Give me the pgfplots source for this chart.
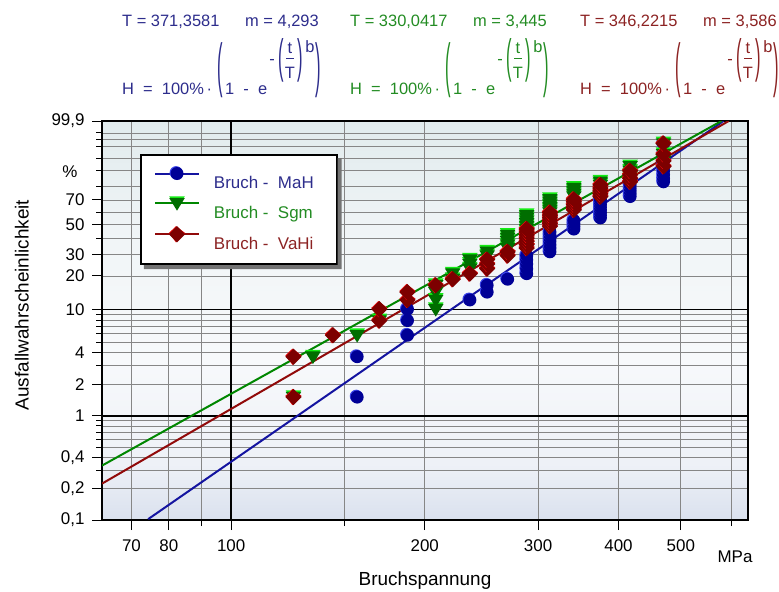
\documentclass[border=0pt]{standalone}
\usepackage{pgfplots}
\pgfplotsset{compat=1.18}
\usepackage{pgfplotstable}
\usepackage{fontspec}
\setmainfont{Liberation Sans}

% series colours
\definecolor{mahline}{RGB}{20,20,160}
\definecolor{mahfill}{RGB}{0,0,150}
\definecolor{mahhi}{RGB}{60,70,235}
\definecolor{mahtext}{RGB}{45,45,140}
\definecolor{sgmline}{RGB}{0,135,0}
\definecolor{sgmfill}{RGB}{0,110,0}
\definecolor{sgmhi}{RGB}{20,235,20}
\definecolor{sgmtext}{RGB}{35,140,35}
\definecolor{vahline}{RGB}{145,10,10}
\definecolor{vahfill}{RGB}{125,0,0}
\definecolor{vahhi}{RGB}{235,10,10}
\definecolor{vahtext}{RGB}{140,35,35}
% plot-area background, bottom to top
\definecolor{bgA}{RGB}{218,225,238}
\definecolor{bgB}{RGB}{238,241,247}
\definecolor{bgC}{RGB}{247,249,251}
\definecolor{bgD}{RGB}{241,245,247}
\definecolor{bgE}{RGB}{225,235,237}
\pgfdeclareverticalshading{plotbg}{100bp}{%
  color(0bp)=(bgA); color(25bp)=(bgA); color(32bp)=(bgB); color(45bp)=(bgC);
  color(60bp)=(bgD); color(75bp)=(bgE); color(100bp)=(bgE)}

\newcommand\tickfont{\fontsize{17}{19}\selectfont}
\newcommand\headfont{\fontsize{16.5}{18}\selectfont}
\newcommand\legfont{\fontsize{17}{19}\selectfont}
\newcommand\labelfont{\fontsize{19}{21}\selectfont}

% bevelled markers: a bright copy slightly up-left, the dark marker on top
\pgfdeclareplotmark{mahdot}{%
  \pgfpathcircle{\pgfqpoint{-0.9pt}{0.9pt}}{\pgfplotmarksize}%
  \pgfsetfillcolor{mahhi}\pgfusepath{fill}%
  \pgfpathcircle{\pgfpointorigin}{\pgfplotmarksize}%
  \pgfsetfillcolor{mahfill}\pgfusepath{fill}}
\pgfdeclareplotmark{sgmtri}{%
  \pgfpathmoveto{\pgfqpoint{-1.2\pgfplotmarksize}{1.05\pgfplotmarksize}}%
  \pgfpathlineto{\pgfqpoint{1.2\pgfplotmarksize}{1.05\pgfplotmarksize}}%
  \pgfpathlineto{\pgfqpoint{0pt}{-0.9\pgfplotmarksize}}\pgfpathclose
  \pgfsetfillcolor{sgmhi}\pgfusepath{fill}%
  \pgfpathmoveto{\pgfqpoint{-1.2\pgfplotmarksize}{0.8\pgfplotmarksize}}%
  \pgfpathlineto{\pgfqpoint{1.2\pgfplotmarksize}{0.8\pgfplotmarksize}}%
  \pgfpathlineto{\pgfqpoint{0pt}{-1.15\pgfplotmarksize}}\pgfpathclose
  \pgfsetfillcolor{sgmfill}\pgfusepath{fill}}
\pgfdeclareplotmark{vahdia}{%
  \pgfpathmoveto{\pgfqpoint{-1pt}{1.25\pgfplotmarksize+1.2pt}}%
  \pgfpathlineto{\pgfqpoint{1.25\pgfplotmarksize-1pt}{1.2pt}}%
  \pgfpathlineto{\pgfqpoint{-1pt}{-1.25\pgfplotmarksize+1.2pt}}%
  \pgfpathlineto{\pgfqpoint{-1.25\pgfplotmarksize-1pt}{1.2pt}}\pgfpathclose
  \pgfsetfillcolor{vahhi}\pgfusepath{fill}%
  \pgfpathmoveto{\pgfqpoint{0pt}{1.25\pgfplotmarksize}}%
  \pgfpathlineto{\pgfqpoint{1.25\pgfplotmarksize}{0pt}}%
  \pgfpathlineto{\pgfqpoint{0pt}{-1.25\pgfplotmarksize}}%
  \pgfpathlineto{\pgfqpoint{-1.25\pgfplotmarksize}{0pt}}\pgfpathclose
  \pgfsetfillcolor{vahfill}\pgfusepath{fill}}

% fracture stress (MPa) and median-rank failure probability H (%)
\pgfplotstableread{
MPa H
157 1.51
157 3.66
188 5.82
188 7.97
188 10.13
235 12.28
250 14.44
250 16.59
269 18.75
288 20.91
288 23.06
288 25.22
288 27.37
288 29.53
313 31.68
313 33.84
313 35.99
313 38.15
313 40.30
313 42.46
313 44.61
341 46.77
341 48.92
341 51.08
341 53.23
375 55.39
375 57.54
375 59.70
375 61.85
375 64.01
375 66.16
375 68.32
375 70.47
417 72.63
417 74.78
417 76.94
417 79.09
417 81.25
470 83.41
470 85.56
470 87.72
470 89.87
470 92.03
470 94.18
470 96.34
470 98.49
}\mah

\pgfplotstableread{
MPa H
125 1.51
134 3.66
157 5.82
170 7.97
208 10.13
208 12.28
208 14.44
208 16.59
221 18.75
221 20.91
235 23.06
235 25.22
235 27.37
250 29.53
250 31.68
269 33.84
269 35.99
269 38.15
269 40.30
269 42.46
288 44.61
288 46.77
288 48.92
288 51.08
288 53.23
288 55.39
288 57.54
313 59.70
313 61.85
313 64.01
313 66.16
313 68.32
313 70.47
341 72.63
341 74.78
341 76.94
341 79.09
375 81.25
375 83.41
417 85.56
417 87.72
417 89.87
417 92.03
470 94.18
470 96.34
470 98.49
}\sgm

\pgfplotstableread{
MPa H
125 1.51
125 3.66
144 5.82
170 7.97
170 10.13
188 12.28
188 14.44
208 16.59
221 18.75
235 20.91
250 23.06
250 25.22
250 27.37
269 29.53
269 31.68
288 33.84
288 35.99
288 38.15
288 40.30
288 42.46
288 44.61
288 46.77
313 48.92
313 51.08
313 53.23
313 55.39
313 57.54
313 59.70
341 61.85
341 64.01
341 66.16
341 68.32
341 70.47
375 72.63
375 74.78
375 76.94
375 79.09
375 81.25
417 83.41
417 85.56
417 87.72
417 89.87
470 92.03
470 94.18
470 96.34
470 98.49
}\vahi

% heading with the fitted parameters and the Weibull law
\newcommand\weibullhead[4]{%
  \begin{scope}[xshift=#1bp, every node/.style={inner sep=0pt, text=#2, font=\headfont}]
    \node[anchor=base west] at (0bp,-26bp) {T = #3};
    \node[anchor=base west] at (123bp,-26bp) {m = #4};
    \node[anchor=base west] at (0bp,-94bp) {H\ \ =\ \ 100\%\,·};
    \node at (98bp,-70bp) {\scalebox{1}[3.6]{(}};
    \node[anchor=base west] at (103bp,-94bp) {1\ \ -\ \ e};
    \node at (150bp,-62bp) {-};
    \node at (159bp,-60bp) {\scalebox{1}[2.85]{(}};
    \node at (168bp,-48bp) {t};
    \draw[#2, line width=0.8bp] (164bp,-58bp) -- (172bp,-58bp);
    \node at (168bp,-73bp) {T};
    \node at (178bp,-60bp) {\scalebox{1}[2.85]{)}};
    \node at (188bp,-47bp) {b};
    \node at (196bp,-70bp) {\scalebox{1}[3.6]{)}};
  \end{scope}}

\begin{document}
\begin{tikzpicture}
\useasboundingbox (0,0) rectangle (779bp,-592bp);

\weibullhead{122}{mahtext}{371,3581}{4,293}
\weibullhead{350}{sgmtext}{330,0417}{3,445}
\weibullhead{580}{vahtext}{346,2215}{3,586}

\begin{axis}[
  at={(102bp,-520bp)}, anchor=south west,
  width=646bp, height=399bp, scale only axis,
  xmode=log, xmin=63, xmax=636,
  ymin=-6.9073, ymax=1.9326,
  % Weibull probability scale: ln(-ln(1-H))
  y filter/.expression={ln(-ln(1-y/100))},
  xtick={70,80,200,300,400,500},
  xticklabels={70,80,200,300,400,500},
  minor xtick={90,150,600},
  extra x ticks={100}, extra x tick labels={100},
  extra x tick style={grid style={black, line width=1.3bp}},
  ytick={-6.9073,-6.2136,-5.5195,-3.9019,-3.1985,-1.4999,-1.0309,-0.3665,0.1856,1.9326},
  yticklabels={{0,1},{0,2},{0,4},{2},{4},{20},{30},{50},{70},{99,9}},
  minor ytick={-5.8076,-5.2958,-5.1130,-4.9583,-4.8243,-4.7060,-3.4913,-2.9702,-2.7826,-2.6232,-2.4843,-2.3612,-0.6717,-0.0874,0.4759,0.8340,1.0972,1.3641,1.5272,1.6674},
  extra y ticks={-4.6002,-2.2504}, extra y tick labels={1,10},
  extra y tick style={grid style={black, line width=1.3bp}},
  grid=both,
  grid style={gray!95, line width=0.7bp},
  minor grid style={gray!95, line width=0.7bp},
  tick align=outside, tick pos=left,
  major tick length=10bp, minor tick length=6bp,
  tick style={black, line width=1bp},
  axis line style={black, line width=2bp},
  ticklabel style={font=\tickfont},
  xticklabel style={yshift=-6bp},
  yticklabel style={xshift=-4bp},
  axis background/.style={shading=plotbg},
  xlabel={Bruchspannung}, ylabel={Ausfallwahrscheinlichkeit},
  label style={font=\labelfont},
  xlabel style={at={(axis description cs:0.5,-0.153)}, anchor=center},
  ylabel style={at={(axis description cs:-0.124,0.539)}, anchor=center},
  legend image code/.code={%
    \draw[#1, mark=none] (0bp,10bp) -- (44bp,10bp);
    \draw[#1, only marks] plot coordinates {(22bp,10bp)};
    % invisible spacer that keeps the entry text clear of the sample line
    \pgfpathmoveto{\pgfqpoint{0bp}{0bp}}\pgfpathlineto{\pgfqpoint{57bp}{0bp}}\pgfusepath{}},
  legend cell align=left,
  legend style={name=lgd, at={(0.0588,0.917)}, anchor=north west, draw=black, line width=2bp,
    fill=white, font=\legfont, inner xsep=13bp, inner ysep=11bp, row sep=4bp},
]
\addlegendimage{mahline, line width=2bp, mark=mahdot, mark size=6.5bp}
\addlegendentry{\textcolor{mahtext}{Bruch -\ \ MaH}\hspace*{8bp}}
\addlegendimage{sgmline, line width=2bp, mark=sgmtri, mark size=6.5bp}
\addlegendentry{\textcolor{sgmtext}{Bruch -\ \ Sgm}\hspace*{8bp}}
\addlegendimage{vahline, line width=2bp, mark=vahdia, mark size=6.5bp}
\addlegendentry{\textcolor{vahtext}{Bruch -\ \ VaHi}\hspace*{8bp}}

% fitted Weibull lines (end points on the frame)
\addplot[forget plot, mahline, line width=2bp] coordinates {(74.317,0.1) (582.52,99.9)};
\addplot[forget plot, sgmline, line width=2bp] coordinates {(63,0.33261) (578.33,99.9)};
\addplot[forget plot, vahline, line width=2bp] coordinates {(63,0.22178) (593.44,99.9)};

% observed fractures
\addplot[forget plot, only marks, mark=mahdot, mark size=6.5bp] table[x=MPa, y=H] {\mah};
\addplot[forget plot, only marks, mark=sgmtri, mark size=6.5bp] table[x=MPa, y=H] {\sgm};
\addplot[forget plot, only marks, mark=vahdia, mark size=6.5bp] table[x=MPa, y=H] {\vahi};
\end{axis}

% drop shadow along the right and lower edge of the legend box
\fill[black!55] ([yshift=-4bp]lgd.north east) -- ++(4bp,0) -- ([shift={(4bp,-4bp)}]lgd.south east)
  -- ([shift={(4bp,-4bp)}]lgd.south west) -- ([xshift=4bp]lgd.south west) -- (lgd.south east) -- cycle;

\node[font=\tickfont, inner sep=0pt] at (70bp,-172bp) {\%};
\node[font=\tickfont, inner sep=0pt] at (735bp,-557bp) {MPa};
\end{tikzpicture}
\end{document}
